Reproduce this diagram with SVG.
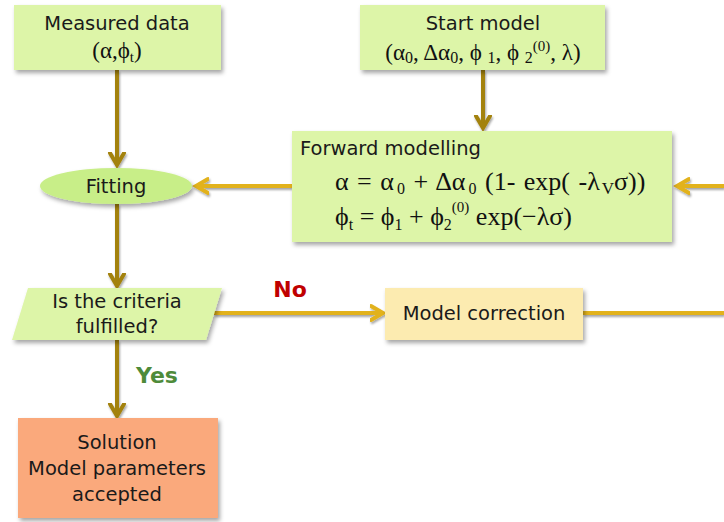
<svg xmlns="http://www.w3.org/2000/svg" width="724" height="522" viewBox="0 0 724 522">
<defs>
<filter id="sh" x="-10%" y="-10%" width="125%" height="130%">
<feDropShadow dx="2" dy="3" stdDeviation="2" flood-color="#000" flood-opacity="0.35"/>
</filter>
<filter id="ash" x="-20%" y="-20%" width="140%" height="140%">
<feDropShadow dx="1" dy="2" stdDeviation="1.2" flood-color="#000" flood-opacity="0.35"/>
</filter>
<marker id="ad" markerUnits="userSpaceOnUse" markerWidth="20" markerHeight="20" refX="13" refY="8" orient="auto" viewBox="0 0 20 16">
<path d="M1,1 L13,8 L1,15" fill="none" stroke="#A3820F" stroke-width="4" stroke-linecap="round" stroke-linejoin="miter"/>
</marker>
<marker id="ab" markerUnits="userSpaceOnUse" markerWidth="20" markerHeight="20" refX="13" refY="8" orient="auto" viewBox="0 0 20 16">
<path d="M1,1 L13,8 L1,15" fill="none" stroke="#E2B21C" stroke-width="4" stroke-linecap="round" stroke-linejoin="miter"/>
</marker>
</defs>
<style>
.box{fill:#DDF5A8;filter:url(#sh)}
.t{font-family:"DejaVu Sans","Liberation Sans",sans-serif;font-size:19.5px;fill:#1a1a1a;text-anchor:middle}
.m{font-family:"Liberation Serif","DejaVu Serif",serif;font-size:26px;fill:#111}
.ms{font-family:"Liberation Serif","DejaVu Serif",serif;font-size:23px;fill:#111;text-anchor:middle}
.cd{fill:none;stroke:#A3820F;stroke-width:4;marker-end:url(#ad)}
.cb{fill:none;stroke:#E2B21C;stroke-width:4}
.cba{marker-end:url(#ab)}
.lbl{font-family:"DejaVu Sans","Liberation Sans",sans-serif;font-size:22px;font-weight:bold;text-anchor:middle}
</style>
<g id="connectors" filter="url(#ash)">
<path class="cd" d="M117,70 V165"/>
<path class="cd" d="M483,70 V128"/>
<path class="cb cba" d="M292,186 H196"/>
<path class="cb cba" d="M724,186 H677"/>
<path class="cd" d="M117,204 V286"/>
<path class="cb cba" d="M214,313 H383"/>
<path class="cb" d="M583,313 H724"/>
<path class="cd" d="M117,340 V416"/>
</g>
<g id="measured">
<rect class="box" x="14" y="5" width="207" height="65"/>
<text class="t" x="117" y="30">Measured data</text>
<text class="ms" x="117" y="58">(α,ϕ<tspan font-size="15" dy="4">t</tspan><tspan dy="-4">)</tspan></text>
</g>
<g id="start">
<rect class="box" x="360" y="5" width="245" height="65"/>
<text class="t" x="483" y="30">Start model</text>
<text class="ms" x="483" y="60">(α<tspan font-size="16" dy="3">0</tspan><tspan dy="-3">, Δα</tspan><tspan font-size="16" dy="3">0</tspan><tspan dy="-3">, ϕ </tspan><tspan font-size="16" dy="3">1</tspan><tspan dy="-3">, ϕ </tspan><tspan font-size="16" dy="3">2</tspan><tspan font-size="15" dy="-12">(0)</tspan><tspan dy="9">, λ)</tspan></text>
</g>
<g id="forward">
<rect class="box" x="292" y="131" width="380" height="111"/>
<text class="t" x="300" y="155" style="text-anchor:start">Forward modelling</text>
<text class="m" x="335" y="190" word-spacing="2">α = α<tspan font-size="16" dx="3" dy="4">0</tspan><tspan dy="-4"> + Δα</tspan><tspan font-size="16" dx="3" dy="4">0</tspan><tspan dy="-4"> (1- exp( -λ</tspan><tspan font-size="17" dx="2" dy="4">V</tspan><tspan dy="-4">σ))</tspan></text>
<text class="m" x="335" y="225">ϕ<tspan font-size="16" dy="5">t</tspan><tspan dy="-5"> = ϕ</tspan><tspan font-size="16" dy="5">1</tspan><tspan dy="-5"> + ϕ</tspan><tspan font-size="16" dy="5">2</tspan><tspan font-size="15" dy="-18">(0)</tspan><tspan dy="13"> exp(−λσ)</tspan></text>
</g>
<g id="fitting">
<ellipse cx="116" cy="186" rx="76" ry="18" fill="#C8EE88" filter="url(#sh)"/>
<text class="t" x="116" y="193">Fitting</text>
</g>
<g id="criteria">
<polygon points="28,288 222,288 206,340 12,340" fill="#DDF5A8" filter="url(#sh)"/>
<text class="t" x="117" y="308">Is the criteria</text>
<text class="t" x="117" y="333">fulfilled?</text>
</g>
<g id="correction">
<rect x="385" y="288" width="198" height="52" fill="#FCEBB0" filter="url(#sh)"/>
<text class="t" x="484" y="320">Model correction</text>
</g>
<g id="solution">
<rect x="18" y="418" width="200" height="100" fill="#FAA97B" filter="url(#sh)"/>
<text class="t" x="117" y="449">Solution</text>
<text class="t" x="117" y="475">Model parameters</text>
<text class="t" x="117" y="501">accepted</text>
</g>
<g id="labels">
<text class="lbl" x="290" y="297" fill="#C00000">No</text>
<text class="lbl" x="157" y="383" fill="#4E8B3A">Yes</text>
</g>
</svg>
